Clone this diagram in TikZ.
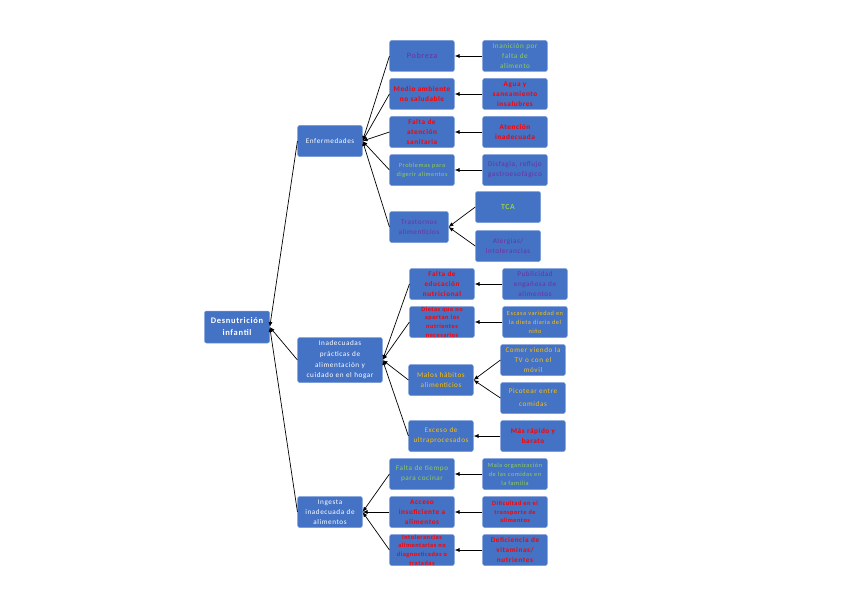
\documentclass[tikz,border=0pt]{standalone}
\usepackage{fontspec}
\setmainfont{Carlito}[LetterSpace=8]
\usetikzlibrary{arrows.meta}

\definecolor{mapblue}{RGB}{68,114,196}
\definecolor{mapedge}{RGB}{120,155,215}
\definecolor{mappurple}{RGB}{112,48,160}
\definecolor{mapred}{RGB}{255,0,0}
\definecolor{mapgreen}{RGB}{146,208,80}
\definecolor{mapyellow}{RGB}{255,192,0}

\tikzset{
  mapbox/.style={rectangle,rounded corners=2pt,fill=mapblue,draw=mapedge,line width=0.5pt,
    minimum width=64pt,minimum height=31pt,text width=64pt,align=center,inner sep=0.3pt,
    font=\fontsize{7.2}{10}\selectfont},
  mainbox/.style={mapbox,text=white},
  purplebox/.style={mapbox,text=mappurple},
  redbox/.style={mapbox,text=mapred,font=\fontsize{7.2}{10}\selectfont\bfseries},
  greenbox/.style={mapbox,text=mapgreen},
  yellowbox/.style={mapbox,text=mapyellow},
  small/.style={font=\fontsize{6.3}{9}\selectfont},
  smallbold/.style={font=\fontsize{6.3}{8.6}\selectfont\bfseries},
  link/.style={-{Latex[length=5pt,width=4pt]},line width=0.7pt}
}

\begin{document}
\begin{tikzpicture}[x=1pt,y=-1pt]
\useasboundingbox (0,0) rectangle (848,599);

\node[mainbox,minimum width=65pt,minimum height=32pt,font=\fontsize{8.5}{12}\selectfont\bfseries] (desn) at (237,327) {Desnutrición\\infantil};
\node[mainbox] (enf) at (330,141) {Enfermedades};
\node[mainbox,minimum width=84pt,minimum height=45pt,text width=84pt,font=\fontsize{7.2}{10.7}\selectfont] (inad) at (340,360) {Inadecuadas\\prácticas de\\alimentación y\\cuidado en el hogar};
\node[mainbox] (ing) at (330,512) {Ingesta\\inadecuada de\\alimentos};

\node[purplebox,font=\fontsize{8.2}{10}\selectfont] (pob) at (422,56) {Pobreza};
\node[redbox] (medio) at (422,94) {Medio ambiente\\no saludable};
\node[redbox] (faltaat) at (422,132) {Falta de\\atención\\sanitaria};
\node[greenbox,small] (probl) at (422,170) {Problemas para\\digerir alimentos};
\node[purplebox,minimum width=58pt,text width=58pt] (trast) at (419,227) {Trastornos\\alimenticios};

\node[greenbox] (inan) at (515,56) {Inanición por\\falta de\\alimento};
\node[redbox] (agua) at (515,94) {Agua y\\saneamiento\\insalubres};
\node[redbox] (atinad) at (515,132) {Atención\\inadecuada};
\node[purplebox] (disf) at (515,170) {Disfagia, reflujo\\gastroesofágico};
\node[greenbox,minimum width=65pt,font=\fontsize{7.8}{10}\selectfont\bfseries] (tca) at (508,207) {TCA};
\node[purplebox,minimum width=65pt] (alerg) at (508,246) {Alergias/\\intolerancias};

\node[redbox] (faltaed) at (442,284) {Falta de\\educación\\nutricional};
\node[redbox,smallbold] (dietas) at (442,322) {Dietas que no\\aportan los\\nutrientes\\necesarios};
\node[yellowbox] (malos) at (441,380) {Malos hábitos\\alimenticios};
\node[yellowbox] (exceso) at (441,436) {Exceso de\\ultraprocesados};

\node[purplebox] (publi) at (535,284) {Publicidad\\engañosa de\\alimentos};
\node[yellowbox,small] (escasa) at (535,322) {Escasa variedad en\\la dieta diaria del\\niño};
\node[yellowbox] (comer) at (533,360) {Comer viendo la\\TV o con el\\móvil};
\node[yellowbox,font=\fontsize{7.2}{13}\selectfont] (picot) at (533,398) {Picotear entre\\comidas};
\node[redbox] (rapido) at (533,436) {Más rápido y\\barato};

\node[greenbox] (faltati) at (422,474) {Falta de tiempo\\para cocinar};
\node[redbox] (acceso) at (422,512) {Acceso\\insuficiente a\\alimentos};
\node[redbox,smallbold] (intol) at (422,550) {Intolerancias\\alimentarias no\\diagnosticadas o\\tratadas};

\node[greenbox,small] (malaorg) at (515,474) {Mala organización\\de las comidas en\\la familia};
\node[redbox,smallbold] (dific) at (515,512) {Dificultad en el\\transporte de\\alimentos};
\node[redbox] (defic) at (515,550) {Deficiencia de\\vitaminas/\\nutrientes};

\draw[link] (enf.west) -- (desn.east);
\draw[link] (inad.west) -- (desn.east);
\draw[link] (ing.west) -- (desn.east);

\draw[link] (pob.west) -- (enf.east);
\draw[link] (medio.west) -- (enf.east);
\draw[link] (faltaat.west) -- (enf.east);
\draw[link] (probl.west) -- (enf.east);
\draw[link] (trast.west) -- (enf.east);

\draw[link] (inan.west) -- (pob.east);
\draw[link] (agua.west) -- (medio.east);
\draw[link] (atinad.west) -- (faltaat.east);
\draw[link] (disf.west) -- (probl.east);
\draw[link] (tca.west) -- (trast.east);
\draw[link] (alerg.west) -- (trast.east);

\draw[link] (faltaed.west) -- (inad.east);
\draw[link] (dietas.west) -- (inad.east);
\draw[link] (malos.west) -- (inad.east);
\draw[link] (exceso.west) -- (inad.east);

\draw[link] (publi.west) -- (faltaed.east);
\draw[link] (escasa.west) -- (dietas.east);
\draw[link] (comer.west) -- (malos.east);
\draw[link] (picot.west) -- (malos.east);
\draw[link] (rapido.west) -- (exceso.east);

\draw[link] (faltati.west) -- (ing.east);
\draw[link] (acceso.west) -- (ing.east);
\draw[link] (intol.west) -- (ing.east);

\draw[link] (malaorg.west) -- (faltati.east);
\draw[link] (dific.west) -- (acceso.east);
\draw[link] (defic.west) -- (intol.east);
\end{tikzpicture}
\end{document}
